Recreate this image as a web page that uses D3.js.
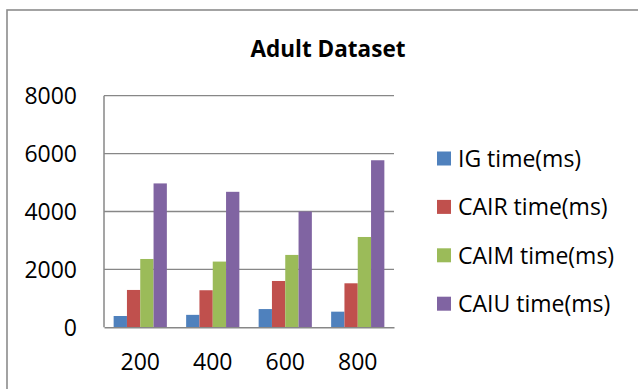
<!DOCTYPE html>
<html>
<head>
<meta charset="utf-8">
<script src="https://cdn.jsdelivr.net/npm/d3@7"></script>
<style>
  html, body { margin: 0; padding: 0; background: #fff; }
  svg { display: block; font-family: "Open Sans", sans-serif; }
</style>
</head>
<body>
<svg id="chart" width="638" height="389"></svg>
<script>
// Run sizes along the x axis
const categories = ["200", "400", "600", "800"];

// Running times (ms) for each method
const seriesNames = ["IG time(ms)", "CAIR time(ms)", "CAIM time(ms)", "CAIU time(ms)"];
const igTime   = [390, 430, 630, 540];
const cairTime = [1290, 1280, 1600, 1520];
const caimTime = [2360, 2270, 2500, 3120];
const caiuTime = [4970, 4680, 4000, 5770];

const yTicks = [0, 2000, 4000, 6000, 8000];
const colors = ["#4F81BD", "#C0504D", "#9BBB59", "#8064A2"];

const seriesValues = [igTime, cairTime, caimTime, caiuTime];
const rows = categories.map((c, i) => ({
  category: c,
  values: seriesNames.map((s, k) => ({ series: s, idx: k, value: seriesValues[k][i] }))
}));

const svg = d3.select("#chart");

// Outer chart frame
svg.append("rect")
  .attr("x", 7).attr("y", 10)
  .attr("width", 700).attr("height", 500)
  .attr("fill", "#fff")
  .attr("stroke", "#8c8c8c")
  .attr("stroke-width", 1.6);

// Title
svg.append("text")
  .attr("x", 328).attr("y", 57)
  .attr("text-anchor", "middle")
  .attr("font-weight", "bold")
  .attr("font-size", 22.5)
  .attr("fill", "#000")
  .text("Adult Dataset");

const plot = { left: 104, right: 394, top: 95.7, bottom: 327.3 };

const x0 = d3.scaleBand()
  .domain(categories)
  .range([plot.left, plot.right])
  .paddingInner(0.266)
  .paddingOuter(0.133);

const x1 = d3.scaleBand()
  .domain(d3.range(seriesNames.length))
  .range([0, x0.bandwidth()]);

const y = d3.scaleLinear()
  .domain([0, 8000])
  .range([plot.bottom, plot.top]);

// Horizontal gridlines
svg.append("g")
  .selectAll("line")
  .data(yTicks.filter(t => t > 0))
  .join("line")
  .attr("x1", plot.left).attr("x2", plot.right)
  .attr("y1", d => y(d)).attr("y2", d => y(d))
  .attr("stroke", "#878787")
  .attr("stroke-width", 1.3);

// Y axis labels
const yAxis = d3.axisLeft(y)
  .tickValues(yTicks)
  .tickFormat(d3.format("d"))
  .tickSize(0)
  .tickPadding(27);
const gy = svg.append("g")
  .attr("transform", `translate(${plot.left},0)`)
  .call(yAxis);
gy.select(".domain").remove();
gy.selectAll("text")
  .attr("font-size", 23)
  .attr("font-family", "Open Sans, sans-serif")
  .attr("fill", "#000")
  .attr("dy", "0.36em");

// Bars
svg.append("g")
  .selectAll("g")
  .data(rows)
  .join("g")
  .attr("transform", d => `translate(${x0(d.category)},0)`)
  .selectAll("rect")
  .data(d => d.values)
  .join("rect")
  .attr("x", d => x1(d.idx))
  .attr("width", x1.bandwidth())
  .attr("y", d => y(d.value))
  .attr("height", d => y(0) - y(d.value))
  .attr("fill", d => colors[d.idx]);

// Axis lines
svg.append("line")
  .attr("x1", plot.left).attr("x2", plot.left)
  .attr("y1", plot.top).attr("y2", plot.bottom)
  .attr("stroke", "#878787").attr("stroke-width", 1.5);

const xAxis = d3.axisBottom(x0).tickSize(0).tickPadding(26);
const gx = svg.append("g")
  .attr("transform", `translate(0,${plot.bottom})`)
  .call(xAxis);
gx.select(".domain").attr("stroke", "#878787").attr("stroke-width", 1.5);
gx.selectAll("text")
  .attr("font-size", 23)
  .attr("font-family", "Open Sans, sans-serif")
  .attr("fill", "#000");

// Legend
const legend = svg.append("g")
  .selectAll("g")
  .data(seriesNames)
  .join("g")
  .attr("transform", (d, i) => `translate(437,${158.5 + i * 48.4})`);

legend.append("rect")
  .attr("x", 0).attr("y", -7)
  .attr("width", 14).attr("height", 14)
  .attr("fill", (d, i) => colors[i]);

legend.append("text")
  .attr("x", 21).attr("y", 0)
  .attr("dy", "0.36em")
  .attr("font-size", 23)
  .attr("fill", "#000")
  .text(d => d);
</script>
</body>
</html>
